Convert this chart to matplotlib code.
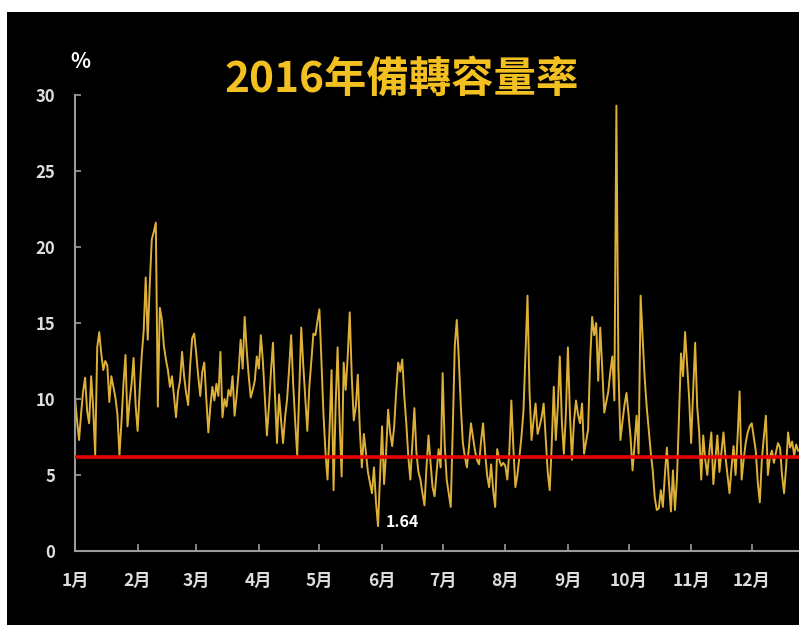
import numpy as np
import matplotlib.pyplot as plt
from matplotlib.patches import Rectangle

plt.rcParams['font.family'] = ['Noto Sans CJK TC', 'DejaVu Sans']

# daily reserve margin (%)
jan = [10.1, 8.6, 7.3, 9.0, 10.5, 11.4, 9.2, 8.4, 11.5, 9.4, 6.3, 13.4, 14.4, 13.0, 11.9, 12.5,
       12.2, 9.8, 11.5, 10.8, 10.1, 9.0, 6.3, 8.5, 11.0, 12.9, 8.2, 9.8, 11.0, 12.7, 9.6]
feb = [7.9, 10.5, 12.8, 14.5, 18.0, 13.9, 17.5, 20.5, 21.0, 21.6, 9.5, 16.0, 15.2, 13.5, 12.6,
       11.9, 10.8, 11.5, 10.2, 8.8, 10.5, 11.2, 13.1, 11.5, 10.4, 9.6, 12.2, 14.0, 14.3]
mar = [13.0, 11.5, 10.2, 11.8, 12.4, 10.0, 7.8, 9.5, 10.8, 9.9, 11.0, 10.2, 13.1, 8.8, 10.0, 9.5,
       10.6, 10.2, 11.5, 8.9, 10.2, 11.8, 13.9, 12.0, 15.4, 13.2, 11.5, 10.1, 10.6, 11.2, 12.8]
apr = [12.0, 14.2, 12.5, 10.0, 7.6, 9.5, 11.8, 13.7, 10.2, 7.1, 10.3, 8.6, 7.1, 8.8, 10.0, 12.0,
       14.2, 11.0, 8.5, 6.3, 10.5, 14.7, 12.2, 10.0, 7.9, 10.8, 12.5, 14.3, 14.2, 15.1]
may = [15.9, 12.5, 9.0, 6.5, 4.7, 8.0, 11.9, 4.0, 9.5, 13.4, 8.5, 4.9, 12.4, 10.6, 12.8, 15.7,
       11.5, 8.6, 9.5, 11.6, 8.0, 5.5, 7.7, 6.5, 5.2, 4.5, 3.8, 5.5, 3.2, 1.64, 5.0]
jun = [8.2, 4.4, 6.5, 9.3, 7.8, 6.9, 8.2, 10.5, 12.4, 11.8, 12.6, 10.2, 8.4, 6.2, 4.7, 7.0,
       9.4, 6.5, 5.2, 4.7, 3.8, 3.0, 5.5, 7.6, 5.8, 4.2, 3.6, 5.2, 6.7, 5.5]
jul = [11.7, 7.0, 4.7, 3.8, 2.9, 8.0, 13.5, 15.2, 12.6, 9.5, 7.1, 6.2, 5.5, 6.8, 8.4, 7.5,
       6.6, 6.0, 5.7, 7.2, 8.4, 6.5, 5.0, 4.2, 5.7, 4.0, 2.9, 6.7, 6.0, 5.6, 5.8]
aug = [5.6, 4.7, 6.5, 9.9, 6.8, 4.2, 5.0, 6.2, 7.5, 9.2, 13.0, 16.8, 10.5, 7.3, 8.6, 9.7,
       7.7, 8.2, 8.8, 9.7, 7.5, 5.2, 4.0, 7.0, 10.8, 7.3, 9.5, 12.8, 8.5, 6.4, 9.0]
sep = [13.4, 9.0, 6.0, 8.5, 9.9, 9.0, 8.4, 9.7, 6.4, 7.2, 8.0, 12.5, 15.4, 14.2, 15.0, 11.2,
       14.7, 12.0, 9.1, 9.8, 10.5, 11.8, 12.8, 9.9, 29.3, 12.0, 7.3, 8.5, 9.6, 10.4]
oct_ = [9.0, 7.5, 5.3, 7.0, 8.9, 6.4, 16.8, 14.0, 11.4, 9.5, 8.0, 6.5, 5.3, 3.5, 2.7, 2.8,
        4.0, 2.9, 5.0, 6.8, 4.5, 2.6, 5.3, 2.7, 4.8, 9.0, 13.0, 11.5, 14.4, 12.3, 10.1]
nov = [7.1, 10.5, 13.7, 9.5, 7.8, 4.7, 7.6, 6.0, 5.0, 6.5, 7.8, 4.4, 6.0, 7.6, 5.2, 6.5,
       7.8, 6.2, 5.0, 3.8, 5.5, 6.9, 5.0, 7.5, 10.5, 4.7, 6.0, 7.1, 7.8, 8.2]
dec = [8.4, 7.5, 6.6, 4.5, 3.2, 6.0, 7.5, 8.9, 5.0, 6.2, 6.6, 5.8, 6.5, 7.1, 6.8, 5.0,
       3.8, 5.5, 7.8, 6.8, 7.2, 6.3, 7.0, 6.6]

months = ['1月', '2月', '3月', '4月', '5月', '6月', '7月', '8月', '9月', '10月', '11月', '12月']
month_days = [31, 29, 31, 30, 31, 30, 31, 31, 30, 31, 30, 31]
threshold = 6.2
title = '2016年備轉容量率'

values = np.array(jan + feb + mar + apr + may + jun + jul + aug + sep + oct_ + nov + dec)
days = np.arange(len(values))
month_starts = np.concatenate([[0], np.cumsum(month_days)[:-1]])

fig = plt.figure(figsize=(7.99, 6.25), dpi=100, facecolor='white')
fig.patches.append(Rectangle((7 / 799, 0), 1, 613 / 625, transform=fig.transFigure,
                             facecolor='black', edgecolor='none', zorder=-10))

ax = fig.add_axes([75 / 799, 1 - 551 / 625, 1 - 75 / 799, (551 - 95) / 625])
ax.set_facecolor('none')
ax.plot(days, values, color='#ddb038', lw=1.4, zorder=2)
ax.axhline(threshold, color='#e80000', lw=2.6, zorder=3)

ax.set_xlim(0, 358.4)
ax.set_ylim(0, 30)
ax.set_yticks(range(0, 31, 5))
ax.set_xticks(month_starts)
ax.set_xticklabels(months)

for s in ['top', 'right']:
    ax.spines[s].set_visible(False)
for s in ['left', 'bottom']:
    ax.spines[s].set_color('#9a9a9a')
    ax.spines[s].set_linewidth(1.5)
ax.tick_params(axis='x', direction='in', length=5, width=1.2, color='#9a9a9a',
               pad=15, labelsize=12.5, labelcolor='#dddddd')
ax.tick_params(axis='y', direction='in', length=4, width=1.2, color='#9a9a9a',
               pad=14, labelsize=12, labelcolor='#dddddd')
for lab in ax.get_xticklabels() + ax.get_yticklabels():
    lab.set_fontweight('bold')

imin = int(np.argmin(values))
ax.text(days[imin] + 3.8, values[imin] + 0.3, f'{values[imin]:.2f}', color='white',
        fontsize=11.5, fontweight='bold', va='center', ha='left')

fig.text(80 / 799, 1 - 62 / 625, '%', color='white', fontsize=15, fontweight='bold',
         ha='center', va='center')
fig.text(402 / 799, 1 - 80 / 625, title, color='#f2c020', fontsize=30.5, fontweight='bold',
         ha='center', va='center')

fig.savefig('out.png', dpi=100, facecolor='white')
